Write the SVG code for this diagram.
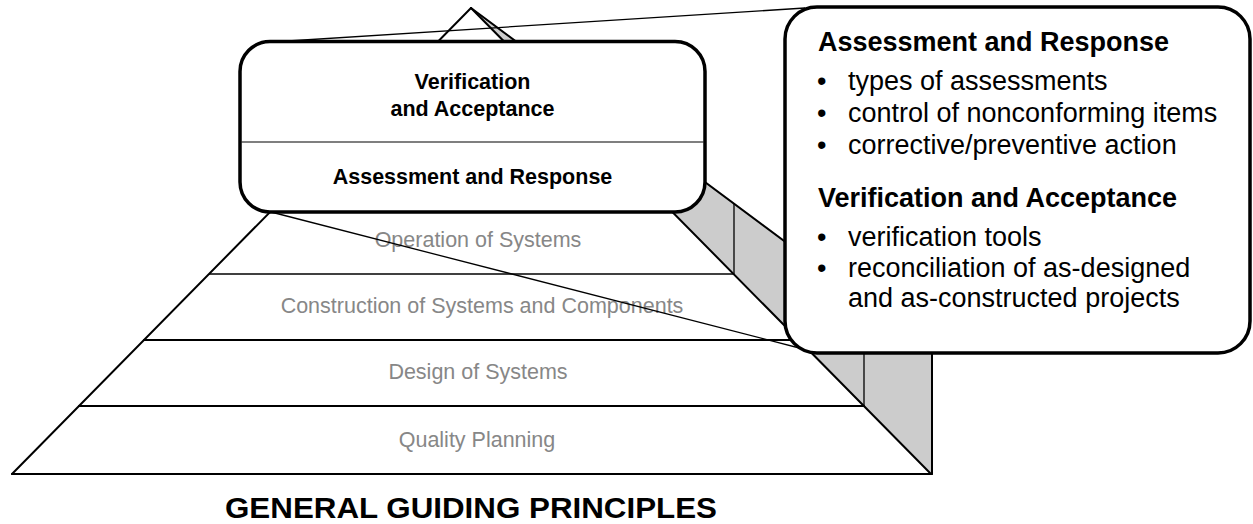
<svg xmlns="http://www.w3.org/2000/svg" width="1253" height="524" viewBox="0 0 1253 524">
<style>
.edge{fill:none;stroke:#000;stroke-width:2;stroke-linecap:round;stroke-linejoin:round}
.thin{fill:none;stroke:#000;stroke-width:1.3}
.tier{font-family:"Liberation Sans",Arial,sans-serif;font-size:21.5px;fill:#878787;text-anchor:middle}
.box{fill:#fff;stroke:#000;stroke-width:3.5}
.bt{font-family:"Liberation Sans",Arial,sans-serif;font-weight:bold;font-size:21.5px;fill:#000;text-anchor:middle}
.h{font-family:"Liberation Sans",Arial,sans-serif;font-weight:bold;font-size:27px;fill:#000}
.li{font-family:"Liberation Sans",Arial,sans-serif;font-size:27px;fill:#000}
.title{font-family:"Liberation Sans",Arial,sans-serif;font-weight:bold;font-size:29px;fill:#000}
</style>
<rect width="1253" height="524" fill="#fff"/>
<g id="pyramid">
  <polygon points="471,8 932,351 932,474 931,474" fill="#cccccc" stroke="none"/>
  <line class="thin" x1="734" y1="274" x2="734" y2="203"/>
  <line class="thin" x1="799" y1="340" x2="799" y2="251"/>
  <line class="thin" x1="864" y1="406" x2="864" y2="300"/>
  <polyline class="edge" points="471,8 932,351 932,474"/>
  <line class="edge" x1="471" y1="8" x2="931" y2="474"/>
  <line class="edge" x1="471" y1="8" x2="12" y2="474"/>
  <line class="edge" x1="12" y1="474" x2="932" y2="474" stroke-width="2.5"/>
  <line class="thin" x1="209" y1="274" x2="734" y2="274"/>
  <line class="edge" x1="144" y1="340" x2="799" y2="340"/>
  <line class="edge" x1="79" y1="406" x2="864" y2="406"/>
</g>
<g id="tier-operation"><text class="tier" x="478" y="247">Operation of Systems</text></g>
<g id="tier-construction"><text class="tier" x="482" y="313">Construction of Systems and Components</text></g>
<g id="tier-design"><text class="tier" x="478" y="379">Design of Systems</text></g>
<g id="tier-planning"><text class="tier" x="477" y="447">Quality Planning</text></g>
<g id="connectors">
  <line class="thin" x1="280" y1="41.5" x2="805" y2="8"/>
  <line class="thin" x1="271" y1="212" x2="807" y2="350"/>
</g>
<g id="focus-box">
  <rect class="box" x="240" y="41.5" width="465" height="170.5" rx="30" ry="30"/>
  <line x1="241.5" y1="142" x2="703.5" y2="142" stroke="#000" stroke-width="1.2"/>
  <text class="bt" x="472.5" y="89">Verification</text>
  <text class="bt" x="472.5" y="116">and Acceptance</text>
  <text class="bt" x="472.5" y="184">Assessment and Response</text>
</g>
<g id="detail-box">
  <rect class="box" x="785" y="7" width="465" height="346" rx="32" ry="32"/>
  <text class="h" x="818" y="51">Assessment and Response</text>
  <text class="li" x="817" y="90">•</text><text class="li" x="848" y="90">types of assessments</text>
  <text class="li" x="817" y="122">•</text><text class="li" x="848" y="122">control of nonconforming items</text>
  <text class="li" x="817" y="154">•</text><text class="li" x="848" y="154">corrective/preventive action</text>
  <text class="h" x="818" y="207">Verification and Acceptance</text>
  <text class="li" x="817" y="246">•</text><text class="li" x="848" y="246">verification tools</text>
  <text class="li" x="817" y="277">•</text><text class="li" x="848" y="277">reconciliation of as-designed</text>
  <text class="li" x="848" y="307">and as-constructed projects</text>
</g>
<g id="title"><text class="title" x="225" y="518" textLength="492" lengthAdjust="spacingAndGlyphs">GENERAL GUIDING PRINCIPLES</text></g>
</svg>
